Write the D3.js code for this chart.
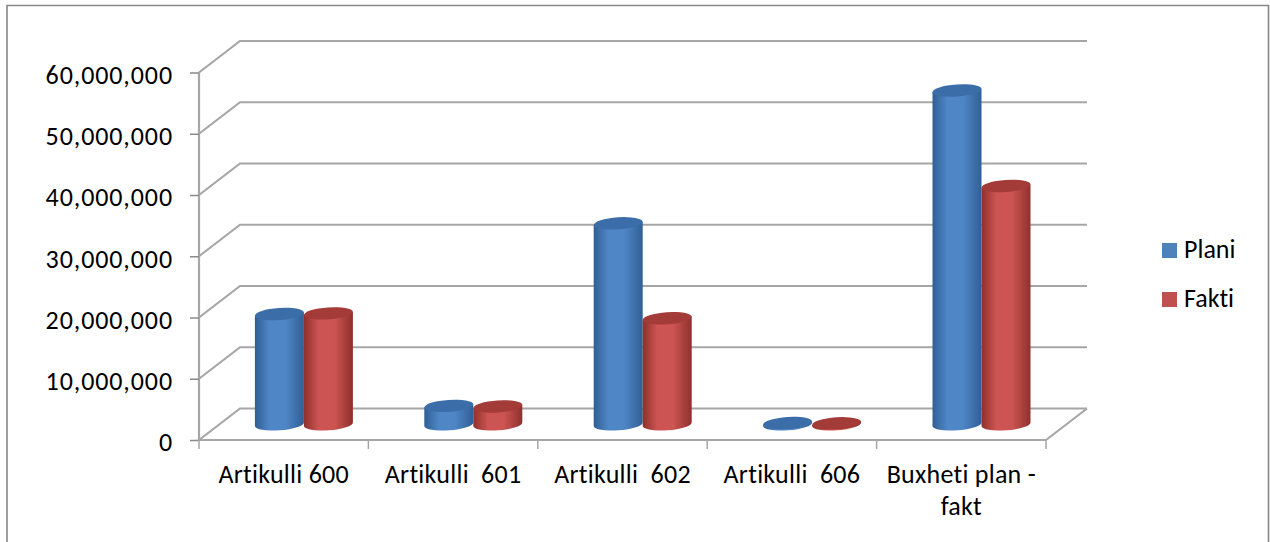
<!DOCTYPE html>
<html>
<head>
<meta charset="utf-8">
<script src="https://cdn.jsdelivr.net/npm/d3@7"></script>
<style>
  html, body { margin: 0; padding: 0; background: #fff; }
  svg { display: block; }
  text { font-family: Carlito, Calibri, Lato, sans-serif; fill: #000; font-variant-ligatures: none; }
</style>
</head>
<body>
<div id="chart"></div>
<script>
const categories = ["Artikulli 600", "Artikulli  601", "Artikulli  602", "Artikulli  606", "Buxheti plan - fakt"];
const seriesNames = ["Plani", "Fakti"];
const plani = [18000000, 3000000, 32800000, 200000, 54500000];
const fakti = [18100000, 2900000, 17300000, 150000, 38900000];
const yTicks = [0, 10000000, 20000000, 30000000, 40000000, 50000000, 60000000];

const width = 1270, height = 542;
const colors = { Plani: ["#2f5f94", "#4f86c6", "#305f96", "#3b6ea8"], Fakti: ["#8e2f2c", "#cc5552", "#8f302d", "#a33a37"] };
const legendColors = { Plani: "#4f81bd", Fakti: "#c0504d" };

const svg = d3.select("#chart").append("svg").attr("width", width).attr("height", height);

// page border, the bottom edge is cut off in the reference
svg.append("path")
  .attr("d", "M7,542V5.5H1268.5V542")
  .attr("fill", "none").attr("stroke", "#868686").attr("stroke-width", 1.6);

const x = d3.scaleBand().domain(categories).range([199, 1046]);
const y = d3.scaleLinear().domain([0, 60000000]).range([440, 72.5]);

// depth of the 3d floor
const depthX = 41, depthY = -31.5;
const gridColor = "#a6a6a6";

const defs = svg.append("defs");
defs.append("filter").attr("id", "soft").append("feGaussianBlur").attr("stdDeviation", 0.5);
defs.append("filter").attr("id", "softLine")
  .attr("filterUnits", "userSpaceOnUse").attr("x", 0).attr("y", 0).attr("width", width).attr("height", height)
  .append("feGaussianBlur").attr("stdDeviation", 0.4);

const grid = svg.append("g").attr("fill", "none").attr("stroke", gridColor).attr("stroke-width", 2.2)
  .attr("filter", "url(#softLine)");
yTicks.forEach(t => {
  grid.append("path").attr("d",
    `M${x.range()[0]},${y(t)}l${depthX},${depthY}H${x.range()[1] + depthX}`);
});
// floor right edge
grid.append("path").attr("d",
  `M${x.range()[1]},${y(0)}l${depthX},${depthY}`);

const yAxis = d3.axisLeft(y).tickValues(yTicks).tickFormat(d3.format(",")).tickSize(9).tickPadding(17);
const gy = svg.append("g").attr("transform", "translate(199,0)").call(yAxis);
gy.select(".domain").attr("stroke", gridColor).attr("stroke-width", 2.2).attr("d", `M0,${y(60000000)}V${y(0)}`);
gy.selectAll(".tick line").attr("stroke", "#8a8a8a").attr("stroke-width", 1.5);
gy.selectAll("text").attr("font-size", 26).attr("letter-spacing", 0.9).attr("dy", "0.42em");
gy.attr("font-family", null);

// category axis: ticks sit on band edges
const gx = svg.append("g");
gx.append("line").attr("x1", x.range()[0]).attr("x2", x.range()[1]).attr("y1", y(0)).attr("y2", y(0))
  .attr("stroke", gridColor).attr("stroke-width", 2.2);
gx.selectAll("line.t").data(categories.map(c => x(c)).concat(x.range()[1])).join("line").attr("class", "t")
  .attr("x1", d => d).attr("x2", d => d).attr("y1", y(0)).attr("y2", y(0) + 9)
  .attr("stroke", gridColor).attr("stroke-width", 1.5);

const labelLines = c => c === "Buxheti plan - fakt" ? ["Buxheti plan -", "fakt"] : [c];
categories.forEach(c => {
  const t = gx.append("text").attr("text-anchor", "middle").attr("font-size", 26).attr("letter-spacing", 0.25)
    .style("white-space", "pre");
  labelLines(c).forEach((l, i) => {
    t.append("tspan").attr("x", x(c) + x.bandwidth() / 2).attr("y", 483 + i * 32).text(l);
  });
});

seriesNames.forEach(s => {
  const g = defs.append("linearGradient").attr("id", "grad" + s);
  g.append("stop").attr("offset", "0%").attr("stop-color", colors[s][0]);
  g.append("stop").attr("offset", "30%").attr("stop-color", colors[s][1]);
  g.append("stop").attr("offset", "62%").attr("stop-color", colors[s][1]);
  g.append("stop").attr("offset", "100%").attr("stop-color", colors[s][2]);
});

// cylinders stand half way into the floor depth
const midX = depthX / 2, midY = depthY / 2;
const barW = 49;
const rx = barW / 2, ry = 6, tilt = -4;
const lift = rx * Math.sin(-tilt * Math.PI / 180);

function cylinder(g, s, cx, v) {
  const base = y(0) + midY, top = y(v) + midY;
  const L = cx - rx, R = cx + rx;
  g.append("path")
    .attr("d", `M${L},${top + lift}L${L},${base + lift}A${rx},${ry} ${tilt} 0 0 ${R},${base - lift}L${R},${top - lift}Z`)
    .attr("fill", `url(#grad${s})`);
  g.append("ellipse")
    .attr("cx", cx).attr("cy", top).attr("rx", rx).attr("ry", ry)
    .attr("transform", `rotate(${tilt} ${cx} ${top})`)
    .attr("fill", colors[s][3]);
}

const bars = svg.append("g").attr("filter", "url(#soft)");
categories.forEach((c, i) => {
  const cx = x(c) + x.bandwidth() / 2 + midX - 0.3;
  cylinder(bars, "Plani", cx - barW / 2, plani[i]);
  cylinder(bars, "Fakti", cx + barW / 2, fakti[i]);
});

// legend
const legend = svg.append("g");
seriesNames.forEach((s, i) => {
  const ly = 250.5 + i * 49;
  legend.append("rect").attr("x", 1162).attr("y", ly - 7.5).attr("width", 15).attr("height", 15).attr("fill", legendColors[s]);
  legend.append("text").attr("x", 1184).attr("y", ly + 7).attr("font-size", 26).text(s);
});
</script>
</body>
</html>
